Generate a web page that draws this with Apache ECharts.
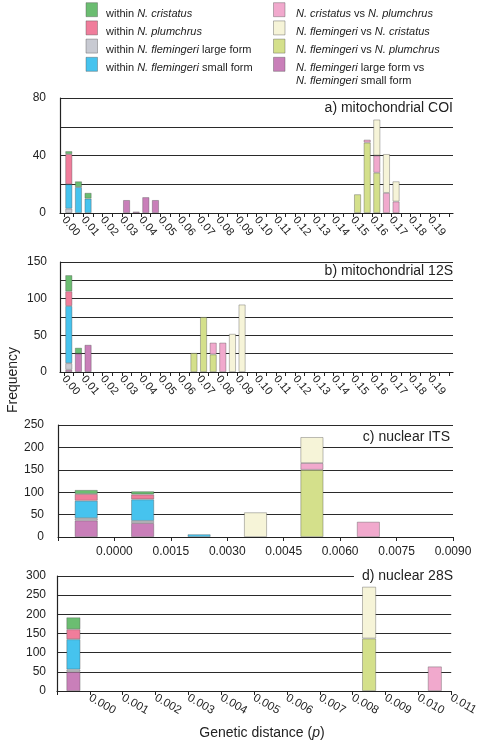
<!DOCTYPE html>
<html><head><meta charset="utf-8">
<script src="https://cdn.jsdelivr.net/npm/echarts/dist/echarts.min.js"></script>
<style>html,body{margin:0;padding:0;background:#fff}#c{width:481px;height:743px}</style>
</head><body><div id="c"></div>
<script>
const FONT = '"Liberation Sans", Arial, Helvetica, sans-serif';
const INK = '#222';

// ---- category bins (bin centres / starts) ----
const binsAB = ['0.000','0.005','0.010','0.015','0.020','0.025','0.030','0.035','0.040','0.045',
  '0.050','0.055','0.060','0.065','0.070','0.075','0.080','0.085','0.090','0.095',
  '0.100','0.105','0.110','0.115','0.120','0.125','0.130','0.135','0.140','0.145',
  '0.150','0.155','0.160','0.165','0.170','0.175','0.180','0.185','0.190','0.195'];
const tickLabelsAB = ['0.00','0.01','0.02','0.03','0.04','0.05','0.06','0.07','0.08','0.09',
  '0.10','0.11','0.12','0.13','0.14','0.15','0.16','0.17','0.18','0.19'];
const binsC = ['-0.00075','0.00075','0.00225','0.00375','0.00525','0.00675','0.00825'];
const tickLabelsC = ['0.0000','0.0015','0.0030','0.0045','0.0060','0.0075','0.0090'];
const binsD = ['-0.0005','0.0005','0.0015','0.0025','0.0035','0.0045','0.0055','0.0065','0.0075','0.0085','0.0095','0.0105'];
const tickLabelsD = ['0.000','0.001','0.002','0.003','0.004','0.005','0.006','0.007','0.008','0.009','0.010','0.011'];

// ---- a) mitochondrial COI ----
const coiBins         = ['0.000','0.005','0.010','0.030','0.035','0.040','0.045','0.150','0.155','0.160','0.165','0.170'];
const coiLargeVsSmall = [0, 0, 0, 9, 1, 11, 9, 0, 0, 0, 0, 0];
const coiWithinLarge  = [3, 0, 0, 0, 0, 0, 0, 0, 0, 0, 0, 0];
const coiWithinSmall  = [17, 18, 10, 0, 0, 0, 0, 0, 0, 0, 0, 0];
const coiWithinPlum   = [21, 0, 0, 0, 0, 0, 0, 0, 0, 0, 0, 0];
const coiWithinCrist  = [2, 4, 4, 0, 0, 0, 0, 0, 0, 0, 0, 0];
const coiFlemVsPlum   = [0, 0, 0, 0, 0, 0, 0, 13, 49, 28, 0, 0];
const coiCristVsPlum  = [0, 0, 0, 0, 0, 0, 0, 0, 2, 12, 14, 8];
const coiFlemVsCrist  = [0, 0, 0, 0, 0, 0, 0, 0, 0, 25, 27, 14];

// ---- b) mitochondrial 12S ----
const s12Bins         = ['0.000','0.005','0.010','0.065','0.070','0.075','0.080','0.085','0.090'];
const s12LargeVsSmall = [3, 25, 37, 0, 0, 0, 0, 0, 0];
const s12WithinLarge  = [9, 0, 0, 0, 0, 0, 0, 0, 0];
const s12WithinSmall  = [78, 0, 0, 0, 0, 0, 0, 0, 0];
const s12WithinPlum   = [20, 0, 0, 0, 0, 0, 0, 0, 0];
const s12WithinCrist  = [22, 8, 0, 0, 0, 0, 0, 0, 0];
const s12FlemVsPlum   = [0, 0, 0, 26, 75, 24, 0, 0, 0];
const s12CristVsPlum  = [0, 0, 0, 0, 0, 16, 40, 0, 0];
const s12FlemVsCrist  = [0, 0, 0, 0, 0, 0, 0, 52, 92];

// ---- c) nuclear ITS ----
const itsLargeVsSmall = [37, 31, 0, 0, 0, 0, 0];
const itsWithinLarge  = [5, 5, 0, 0, 0, 0, 0];
const itsWithinSmall  = [39, 48, 6, 0, 0, 0, 0];
const itsWithinPlum   = [15, 11, 0, 0, 0, 0, 0];
const itsWithinCrist  = [9, 7, 0, 0, 0, 0, 0];
const itsFlemVsPlum   = [0, 0, 0, 0, 150, 0, 0];
const itsCristVsPlum  = [0, 0, 0, 0, 15, 34, 0];
const itsFlemVsCrist  = [0, 0, 0, 55, 58, 0, 0];

// ---- d) nuclear 28S ----
const s28LargeVsSmall = [50, 0, 0, 0, 0, 0, 0, 0, 0, 0, 0, 0];
const s28WithinLarge  = [6, 0, 0, 0, 0, 0, 0, 0, 0, 0, 0, 0];
const s28WithinSmall  = [79, 0, 0, 0, 0, 0, 0, 0, 0, 0, 0, 0];
const s28WithinPlum   = [26, 0, 0, 0, 0, 0, 0, 0, 0, 0, 0, 0];
const s28WithinCrist  = [31, 0, 0, 0, 0, 0, 0, 0, 0, 0, 0, 0];
const s28FlemVsPlum   = [0, 0, 0, 0, 0, 0, 0, 0, 0, 137, 0, 0];
const s28CristVsPlum  = [0, 0, 0, 0, 0, 0, 0, 0, 0, 0, 0, 64];
const s28FlemVsCrist  = [0, 0, 0, 0, 0, 0, 0, 0, 0, 135, 0, 0];

// ---- series keys (stack order bottom->top), names, colours ----
const seriesKeys = ['largeVsSmall','withinLarge','withinSmall','withinPlum','withinCrist','flemVsPlum','cristVsPlum','flemVsCrist'];
const seriesNames = ['N. flemingeri large form vs N. flemingeri small form','within N. flemingeri large form',
  'within N. flemingeri small form','within N. plumchrus','within N. cristatus',
  'N. flemingeri vs N. plumchrus','N. cristatus vs N. plumchrus','N. flemingeri vs N. cristatus'];
const seriesColors = ['#c97fb9','#c8cad2','#46c3ee','#f07d9b','#6bbd71','#d4e08b','#f1a9cd','#f6f4d8'];

function panelSeries(id, panelBins, axisBins, valueLists, xi, yi, bw) {
  return seriesKeys.map((k, s) => ({
    type: 'bar', name: seriesNames[s], stack: id, xAxisIndex: xi, yAxisIndex: yi, barWidth: bw,
    animation: false,
    itemStyle: { color: seriesColors[s], borderColor: 'rgba(70,70,70,0.45)', borderWidth: 0.8 },
    data: axisBins.map(b => { const i = panelBins.indexOf(b); const v = i >= 0 ? valueLists[s][i] : 0; return v ? v : '-'; })
  }));
}

const series = [].concat(
  panelSeries('a', coiBins, binsAB, [coiLargeVsSmall, coiWithinLarge, coiWithinSmall, coiWithinPlum, coiWithinCrist, coiFlemVsPlum, coiCristVsPlum, coiFlemVsCrist], 1, 1, 7),
  panelSeries('b', s12Bins, binsAB, [s12LargeVsSmall, s12WithinLarge, s12WithinSmall, s12WithinPlum, s12WithinCrist, s12FlemVsPlum, s12CristVsPlum, s12FlemVsCrist], 4, 3, 7),
  panelSeries('c', binsC, binsC, [itsLargeVsSmall, itsWithinLarge, itsWithinSmall, itsWithinPlum, itsWithinCrist, itsFlemVsPlum, itsCristVsPlum, itsFlemVsCrist], 6, 4, 23),
  panelSeries('d', binsD, binsD, [s28LargeVsSmall, s28WithinLarge, s28WithinSmall, s28WithinPlum, s28WithinCrist, s28FlemVsPlum, s28CristVsPlum, s28FlemVsCrist], 8, 5, 14)
);

function frameX(g) {
  return { gridIndex: g, type: 'value', min: 0, max: 1,
    axisLine: { show: true, onZero: false, lineStyle: { color: INK, width: 1.2 } },
    axisTick: { show: false }, axisLabel: { show: false }, splitLine: { show: false } };
}
function binX(g, bins, showLine) {
  return { gridIndex: g, type: 'category', data: bins, boundaryGap: true, position: 'bottom',
    axisLine: { show: showLine, onZero: false, lineStyle: { color: INK, width: 1.2 } },
    axisTick: { show: true, interval: 0, length: 4, lineStyle: { color: INK } },
    axisLabel: { show: false }, splitLine: { show: false } };
}
function labelX(g, labels, rotate, margin, size) {
  return { gridIndex: g, type: 'category', data: labels, boundaryGap: false, position: 'bottom',
    axisLine: { show: false, onZero: false }, axisTick: { show: false }, splitLine: { show: false },
    axisLabel: { show: true, interval: 0, rotate: rotate, margin: margin, fontSize: size, color: INK, fontFamily: FONT } };
}
function frameY(g, max, interval, step, margin) {
  return { gridIndex: g, type: 'value', min: 0, max: max, interval: interval,
    axisLine: { show: true, onZero: false, lineStyle: { color: INK, width: 1.2 } },
    axisTick: { show: false },
    splitLine: { show: true, lineStyle: { color: '#2a2a2a', width: 1.2 } },
    axisLabel: { fontSize: 12, color: INK, fontFamily: FONT, margin: margin,
      formatter: v => (v % step === 0 ? String(v) : '') } };
}
function hiddenY(g, max) { return { gridIndex: g, type: 'value', min: 0, max: max, show: false }; }

const titleStyle = { fontSize: 14, fontWeight: 'normal', color: INK, fontFamily: FONT, lineHeight: 16 };

const legendLeft = [
  { color: seriesColors[4], text: 'within {i|N. cristatus}' },
  { color: seriesColors[3], text: 'within {i|N. plumchrus}' },
  { color: seriesColors[1], text: 'within {i|N. flemingeri} large form' },
  { color: seriesColors[2], text: 'within {i|N. flemingeri} small form' }
];
const legendRight = [
  { color: seriesColors[6], text: '{i|N. cristatus} vs {i|N. plumchrus}' },
  { color: seriesColors[7], text: '{i|N. flemingeri} vs {i|N. cristatus}' },
  { color: seriesColors[5], text: '{i|N. flemingeri} vs {i|N. plumchrus}' },
  { color: seriesColors[0], text: '{i|N. flemingeri} large form vs\n{i|N. flemingeri} small form' }
];
const rich = { i: { fontStyle: 'italic', fontSize: 11, fontFamily: FONT, fill: INK, color: INK, lineHeight: 13 } };
const graphics = [];
function addLegend(list, sx, tx) {
  list.forEach((it, r) => {
    const y = 2.7 + r * 18.2;
    graphics.push({ type: 'rect', shape: { x: sx, y: y, width: 11.5, height: 14 },
      style: { fill: it.color, stroke: 'rgba(80,80,80,0.5)', lineWidth: 0.8 } });
    const lines = it.text.split('\n');
    lines.forEach((ln, j) => {
      graphics.push({ type: 'text', x: tx, y: y + 10.8 + j * 13,
        style: { text: ln, rich: rich, fontSize: 11, fontFamily: FONT, fill: INK,
          align: 'left', verticalAlign: 'middle', textAlign: 'left', textVerticalAlign: 'middle' } });
    });
  });
}
addLegend(legendLeft, 86, 106);
addLegend(legendRight, 273.5, 296);
graphics.push({ type: 'text', x: 13, y: 380, rotation: Math.PI / 2,
  style: { text: 'Frequency', fontSize: 14, fontFamily: FONT, fill: INK, align: 'center', verticalAlign: 'middle',
    textAlign: 'center', textVerticalAlign: 'middle' } });
graphics.push({ type: 'text', x: 262, y: 733,
  style: { text: 'Genetic distance ({i|p})', fontSize: 14, fontFamily: FONT, fill: INK,
    rich: { i: { fontStyle: 'italic', fontSize: 14, fontFamily: FONT, fill: INK, color: INK } },
    align: 'center', verticalAlign: 'middle', textAlign: 'center', textVerticalAlign: 'middle' } });

const option = {
  animation: false,
  backgroundColor: '#fff',
  textStyle: { fontFamily: FONT },
  title: [
    { text: 'a) mitochondrial COI', right: 28, top: 100, padding: 0, textStyle: titleStyle },
    { text: 'b) mitochondrial 12S', right: 28, top: 263, padding: 0, textStyle: titleStyle },
    { text: 'c) nuclear ITS', right: 31, top: 429, padding: 0, textStyle: titleStyle },
    { text: 'd) nuclear 28S', right: 25, top: 568, padding: [0, 3, 0, 8], backgroundColor: '#fff', textStyle: titleStyle }
  ],
  grid: [
    { left: 60, top: 98, width: 393, height: 115 },
    { left: 64, top: 98, width: 385, height: 115 },
    { left: 60, top: 262, width: 393, height: 110 },
    { left: 64, top: 262, width: 385, height: 110 },
    { left: 58, top: 425, width: 395, height: 112 },
    { left: 57, top: 576, width: 399, height: 115 }
  ],
  xAxis: [
    frameX(0),
    binX(1, binsAB, false),
    labelX(1, tickLabelsAB.concat(['']), -50, 5, 11),
    frameX(2),
    binX(3, binsAB, false),
    labelX(3, tickLabelsAB.concat(['']), -50, 5, 11),
    binX(4, binsC, true),
    labelX(4, [''].concat(tickLabelsC), 0, 9, 12),
    binX(5, binsD, true),
    labelX(5, [''].concat(tickLabelsD), -30, 6, 11.5)
  ],
  yAxis: [
    frameY(0, 80, 20, 40, 14),
    hiddenY(1, 80),
    frameY(2, 150, 25, 50, 13),
    hiddenY(3, 150),
    frameY(4, 250, 50, 50, 14),
    frameY(5, 300, 50, 50, 11)
  ],
  graphic: graphics,
  series: series
};

const chart = echarts.init(document.getElementById('c'), null, { renderer: 'canvas' });
chart.setOption(option);
</script></body></html>
